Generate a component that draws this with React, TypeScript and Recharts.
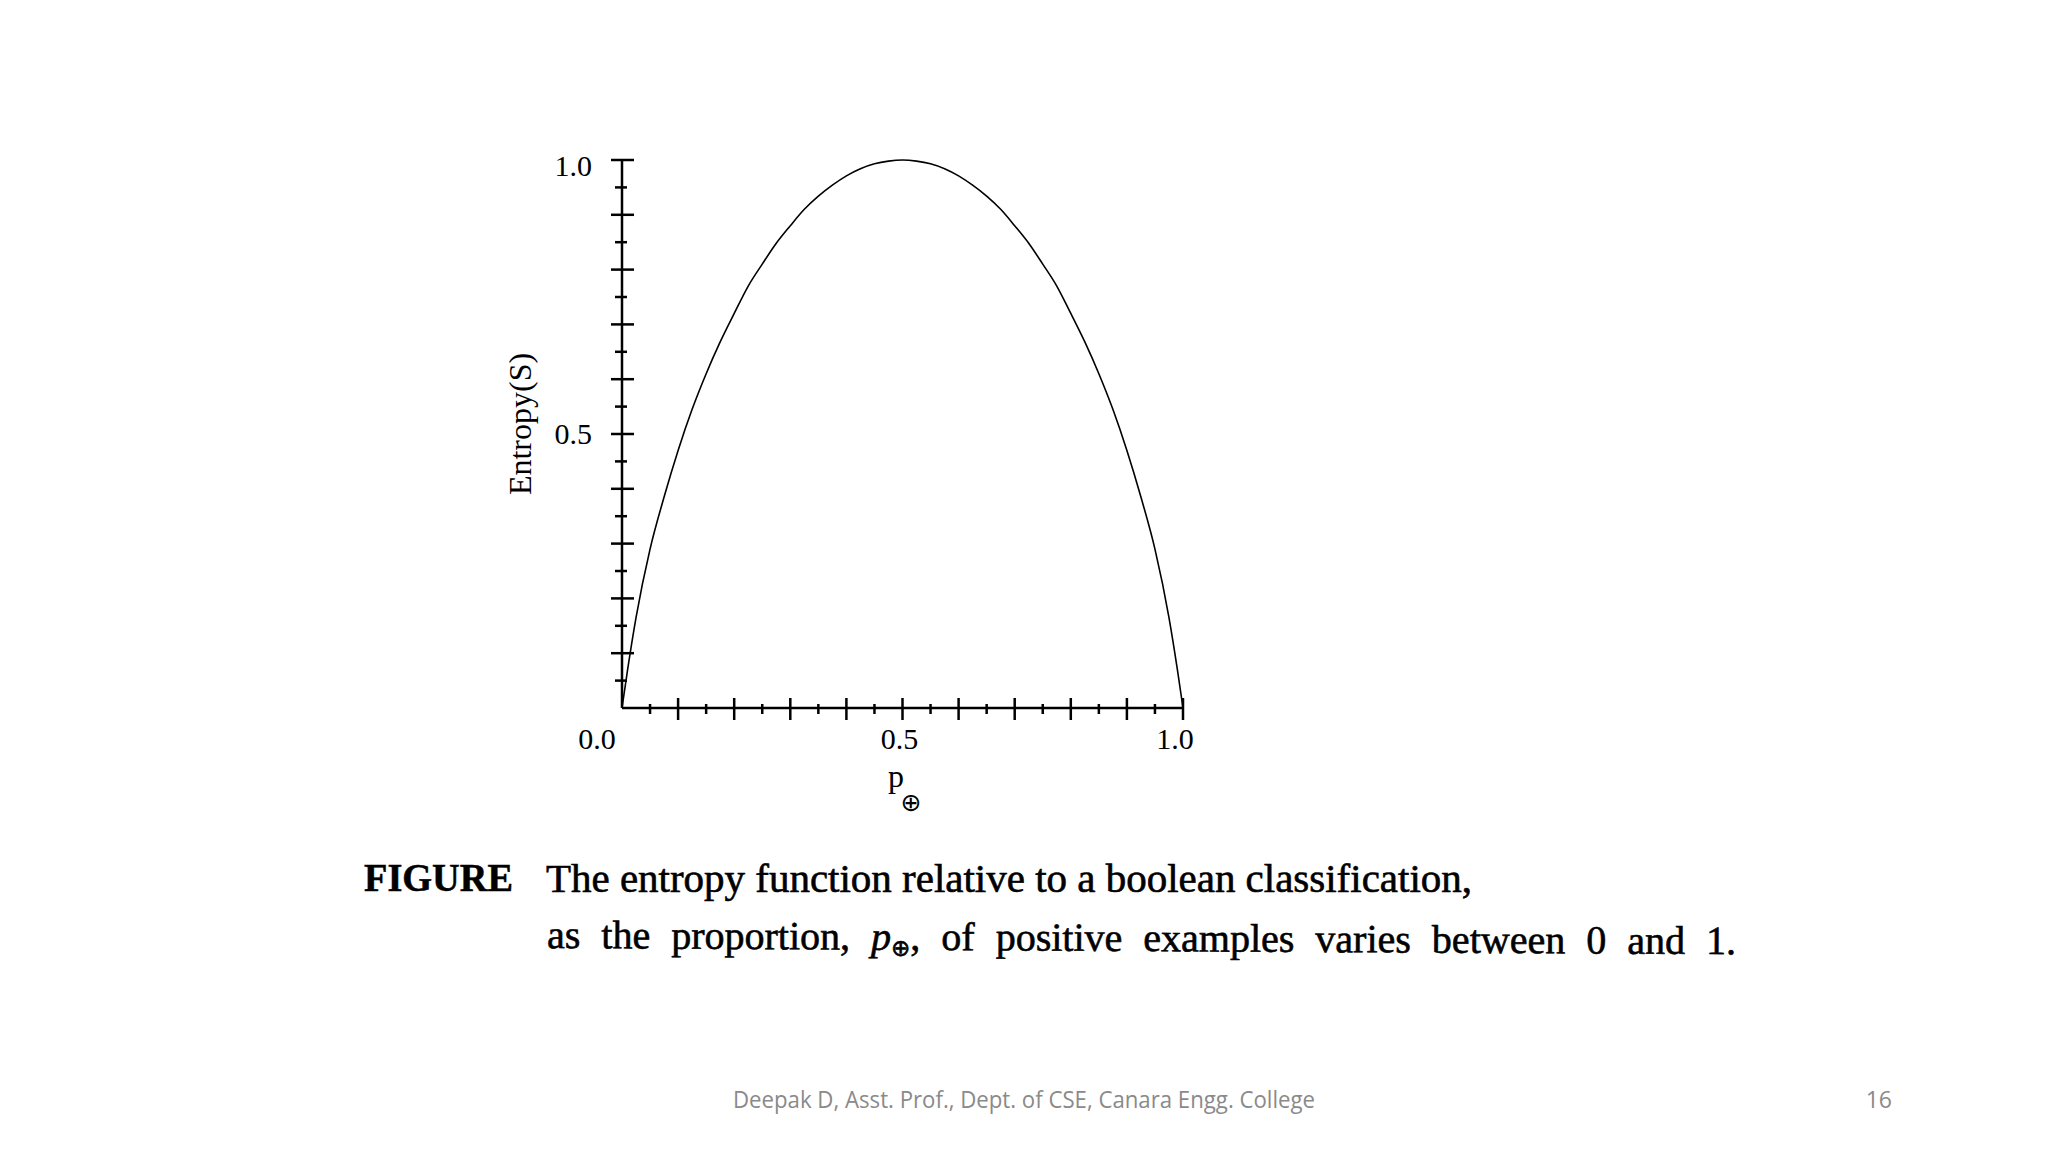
import React from "react";
import { LineChart, Line, XAxis, YAxis } from "recharts";

// proportion of positive examples, and the entropy
const pValues = [
  0, 0.01, 0.025, 0.05, 0.075, 0.1, 0.125, 0.15, 0.175, 0.2, 0.225, 0.25, 0.275, 0.3, 0.325, 0.35, 0.375, 0.4, 0.425, 0.45, 0.475, 0.5,
  0.525, 0.55, 0.575, 0.6, 0.625, 0.65, 0.675, 0.7, 0.725, 0.75, 0.775, 0.8, 0.825, 0.85, 0.875, 0.9, 0.925, 0.95, 0.975, 0.99, 1,
];
const entropyValues = [
  0, 0.07, 0.165, 0.29, 0.385, 0.47, 0.545, 0.61, 0.668, 0.72, 0.77, 0.81, 0.848, 0.88, 0.91, 0.934, 0.954, 0.971, 0.984, 0.993, 0.998, 1.0,
  0.998, 0.993, 0.984, 0.971, 0.954, 0.934, 0.91, 0.88, 0.848, 0.81, 0.77, 0.72, 0.668, 0.61, 0.545, 0.47, 0.385, 0.29, 0.165, 0.07, 0,
];

const xTicks = [0, 0.05, 0.1, 0.15, 0.2, 0.25, 0.3, 0.35, 0.4, 0.45, 0.5, 0.55, 0.6, 0.65, 0.7, 0.75, 0.8, 0.85, 0.9, 0.95, 1];
const yTicks = [0, 0.05, 0.1, 0.15, 0.2, 0.25, 0.3, 0.35, 0.4, 0.45, 0.5, 0.55, 0.6, 0.65, 0.7, 0.75, 0.8, 0.85, 0.9, 0.95, 1];
const xTickLabels: Record<string, string> = { "0": "0.0", "0.5": "0.5", "1": "1.0" };
const yTickLabels: Record<string, string> = { "0.5": "0.5", "1": "1.0" };

const data = pValues.map((p, i) => ({ p, h: entropyValues[i] }));

const SERIF = "'Liberation Serif', 'Times New Roman', serif";
const INK = "#000";

const isMajor = (v: number) => Math.abs(v * 10 - Math.round(v * 10)) < 1e-6;

function XTick(props: any) {
  const { x, y, payload } = props;
  const v = payload.value as number;
  const label = xTickLabels[String(v)];
  const dx = v === 0 ? -25 : v === 1 ? -8 : -3;
  return (
    <g>
      {v !== 0 && (
        <line
          x1={x}
          x2={x}
          y1={isMajor(v) ? y - 10 : y - 4}
          y2={isMajor(v) ? y + 12 : y + 6}
          stroke={INK}
          strokeWidth={2.5}
        />
      )}
      {label && (
        <text x={x + dx} y={y + 41} textAnchor="middle" fontFamily={SERIF} fontSize={30} fill={INK}>
          {label}
        </text>
      )}
    </g>
  );
}

function YTick(props: any) {
  const { x, y, payload } = props;
  const v = payload.value as number;
  const label = yTickLabels[String(v)];
  return (
    <g>
      {v !== 0 && (
        <line
          x1={isMajor(v) ? x - 11 : x - 7}
          x2={isMajor(v) ? x + 12 : x + 5}
          y1={y}
          y2={y}
          stroke={INK}
          strokeWidth={2.5}
        />
      )}
      {label && (
        <text x={x - 30} y={y + (v === 1 ? 16 : 10)} textAnchor="end" fontFamily={SERIF} fontSize={30} fill={INK}>
          {label}
        </text>
      )}
    </g>
  );
}

export default function App() {
  return (
    <div style={{ position: "absolute", left: 0, top: 0, width: 2048, height: 1152, background: "#fff", overflow: "hidden" }}>
      <LineChart width={2048} height={1152} data={data} margin={{ top: 160, right: 865, bottom: 414, left: 562 }}>
        <XAxis
          dataKey="p"
          type="number"
          domain={[0, 1]}
          ticks={xTicks}
          interval={0}
          height={30}
          tickSize={0}
          tickMargin={0}
          tickLine={false}
          axisLine={{ stroke: INK, strokeWidth: 2.5 }}
          tick={(p: any) => <XTick {...p} />}
        />
        <YAxis
          type="number"
          domain={[0, 1]}
          ticks={yTicks}
          interval={0}
          width={60}
          tickSize={0}
          tickMargin={0}
          tickLine={false}
          axisLine={{ stroke: INK, strokeWidth: 2.5 }}
          tick={(p: any) => <YTick {...p} />}
        />
        <Line dataKey="h" type="monotone" stroke={INK} strokeWidth={1.6} dot={false} isAnimationActive={false} />
      </LineChart>

      <svg width={2048} height={1152} style={{ position: "absolute", left: 0, top: 0, pointerEvents: "none" }}>
        <text transform="translate(531,424) rotate(-90)" textAnchor="middle" fontFamily={SERIF} fontSize={32} fill={INK}>
          Entropy(S)
        </text>
        <text x={896} y={787} textAnchor="middle" fontFamily={SERIF} fontSize={32} fill={INK}>
          p
        </text>
        <text x={911} y={811} textAnchor="middle" fontFamily="'DejaVu Sans', sans-serif" fontSize={25} fill={INK}>
          ⊕
        </text>

        <text x={364} y={891} fontFamily={SERIF} fontWeight="bold" fontSize={40} textLength={149} lengthAdjust="spacingAndGlyphs" fill={INK} stroke={INK} strokeWidth={0.5}>
          FIGURE
        </text>
        <text x={546} y={892} fontFamily={SERIF} fontSize={39} textLength={926} lengthAdjust="spacingAndGlyphs" fill={INK} stroke={INK} strokeWidth={0.6}>
          The entropy function relative to a boolean classification,
        </text>
        <text x={547} y={948} fontFamily={SERIF} fontSize={40} wordSpacing={11} fill={INK} stroke={INK} strokeWidth={0.6} transform="rotate(0.3 547 948)">
          as the proportion, <tspan fontStyle="italic">p</tspan>
          <tspan fontFamily="'DejaVu Sans', sans-serif" fontSize={23} dy={6}>⊕</tspan>
          <tspan dy={-6}>, of positive examples varies between 0 and 1.</tspan>
        </text>

        <text x={733} y={1108} fontFamily="'Open Sans', 'Noto Sans', sans-serif" fontSize={23} textLength={582} lengthAdjust="spacingAndGlyphs" fill="#8a8a8a">
          Deepak D, Asst. Prof., Dept. of CSE, Canara Engg. College
        </text>
        <text x={1892} y={1108} textAnchor="end" fontFamily="'Open Sans', 'Noto Sans', sans-serif" fontSize={23} fill="#8a8a8a">
          16
        </text>
      </svg>
    </div>
  );
}
